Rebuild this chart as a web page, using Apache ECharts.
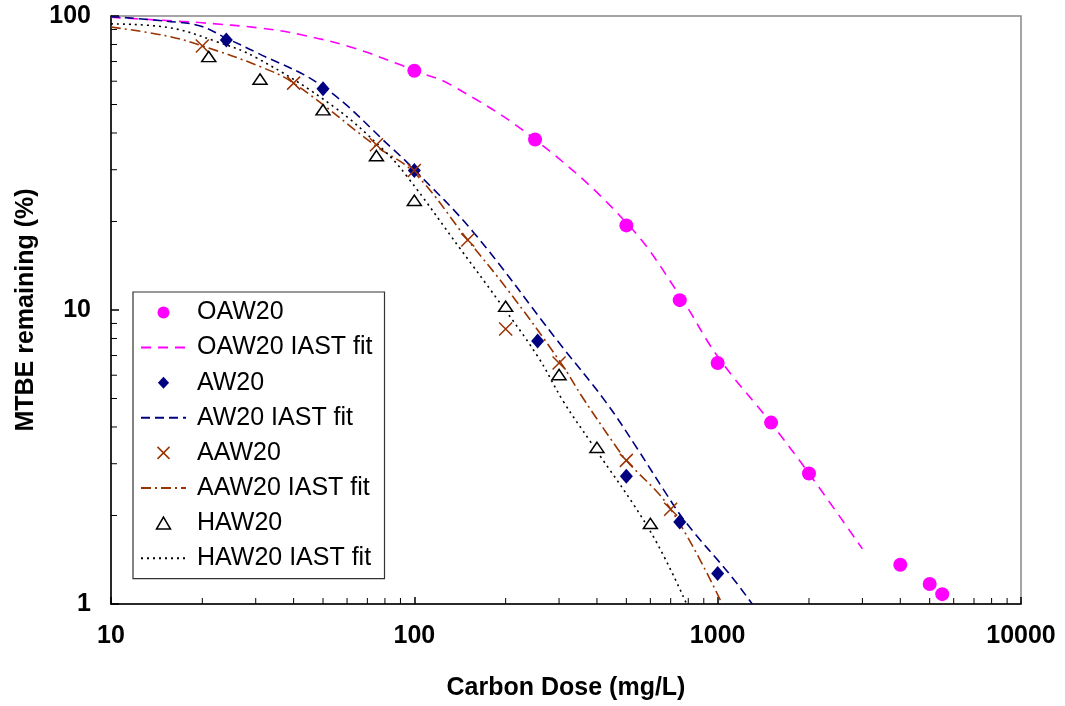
<!DOCTYPE html>
<html><head><meta charset="utf-8">
<script src="https://cdn.jsdelivr.net/npm/echarts@6/dist/echarts.min.js"></script>
<style>html,body{margin:0;padding:0;background:#fff}#c{width:1065px;height:706px}</style>
</head><body><div id="c"></div>
<script>
// ---- data ----
const xTickLabels = ['10', '100', '1000', '10000'];
const yTickLabels = ['1', '10', '100'];
const xMinorTicks = [20,30,40,50,60,70,80,90,200,300,400,500,600,700,800,900,2000,3000,4000,5000,6000,7000,8000,9000];
const yMinorTicks = [2,3,4,5,6,7,8,9,20,30,40,50,60,70,80,90];

const oaw20X = [100, 250, 500, 750, 1000, 1500, 2000, 4000, 5000, 5500];
const oaw20Y = [65.1, 38.0, 19.4, 10.8, 6.6, 4.14, 2.78, 1.36, 1.17, 1.08];
const aw20X = [24, 50, 100, 255, 500, 750, 1000];
const aw20Y = [82.9, 56.6, 29.8, 7.85, 2.72, 1.90, 1.27];
const aaw20X = [20, 40, 75, 100, 150, 200, 300, 500, 700];
const aaw20Y = [79.1, 59.1, 36.5, 29.8, 17.3, 8.62, 6.6, 3.08, 2.10];
const haw20X = [21, 31, 50, 75, 100, 200, 300, 400, 600];
const haw20Y = [72.8, 61.0, 48.0, 33.5, 23.6, 10.3, 6.03, 3.41, 1.88];

const oawFitX = [10, 16.5, 20, 31, 42, 61.5, 90, 100, 131.5, 250, 505, 750, 1000, 1500, 2000, 3000];
const oawFitY = [99.0, 96.0, 94.8, 91.0, 86.5, 78.5, 68.2, 65.2, 58.4, 38.0, 19.6, 11.2, 6.95, 4.12, 2.78, 1.54];
const awFitX = [10, 15.3, 19.7, 24, 30.3, 50, 85.4, 100, 156.5, 296, 427, 543, 663, 784, 1104, 1300];
const awFitY = [99.5, 96.0, 92.5, 84.0, 75.0, 57.5, 35.1, 30.0, 18.4, 7.87, 4.88, 3.38, 2.45, 1.90, 1.25, 1.0];
const aawFitX = [10, 15.3, 20, 31, 40, 75, 100, 150, 202, 303, 361, 467, 500, 700, 1035];
const aawFitY = [91.7, 85.5, 79.1, 67.3, 59.1, 36.0, 29.3, 17.3, 11.8, 6.65, 4.99, 3.38, 3.08, 2.10, 1.0];
const hawFitX = [10, 15.3, 22.3, 30.3, 54, 79, 94.5, 142, 187.5, 254, 311, 381, 601, 790];
const hawFitY = [94.0, 91.5, 81.8, 71.9, 49.3, 35.1, 28.5, 16.1, 10.9, 7.0, 4.86, 3.56, 1.76, 1.0];

// ---- build chart ----
const zip = (xs, ys) => xs.map((x, i) => [x, ys[i]]);
const FONT = "'Liberation Sans', Arial, sans-serif";
const MAGENTA = '#FF00FF', NAVY = '#000080', BROWN = '#993300', BLACK = '#000000';
const CROSS = 'path://M0,0L10,10M10,0L0,10';
const DIAMOND = 'path://M7,0L14,7.5L7,15L0,7.5Z';
const TRIANGLE = 'path://M7,0L14,12L0,12Z';
const CLEAR = 'rgba(0,0,0,0)';

function fitLine(name, xs, ys, color, dash) {
  return {
    name, type: 'line', data: zip(xs, ys), showSymbol: false, symbol: 'none',
    smooth: 0.4, z: 2, silent: true,
    lineStyle: { color, width: 1.6, type: dash },
    itemStyle: { color: CLEAR, borderWidth: 0 }
  };
}

const chart = echarts.init(document.getElementById('c'), null, { renderer: 'canvas' });
chart.setOption({
  animation: false,
  backgroundColor: '#fff',
  textStyle: { fontFamily: FONT },
  grid: { left: 111, right: 44, top: 16, bottom: 100, show: true, borderColor: '#888', borderWidth: 1.5, backgroundColor: '#fff' },
  xAxis: {
    type: 'log', logBase: 10, min: 10, max: 10000, splitNumber: 3,
    name: 'Carbon Dose (mg/L)', nameLocation: 'middle', nameGap: 72,
    nameTextStyle: { fontSize: 25, fontWeight: 'bold', color: '#000', fontFamily: FONT },
    axisLine: { onZero: false, lineStyle: { color: '#000', width: 1.5 } },
    axisTick: { inside: true, length: 7, lineStyle: { color: '#000', width: 1.5 } },
    axisLabel: { fontSize: 25, fontWeight: 'bold', color: '#000', fontFamily: FONT, margin: 20,
      formatter: v => xTickLabels.find(t => Number(t) === Math.round(v)) || '' },
    splitLine: { show: false }
  },
  yAxis: {
    type: 'log', logBase: 10, min: 1, max: 100, splitNumber: 2,
    name: 'MTBE remaining (%)', nameLocation: 'middle', nameGap: 64,
    nameTextStyle: { fontSize: 25, fontWeight: 'bold', color: '#000', fontFamily: FONT },
    axisLine: { onZero: false, lineStyle: { color: '#000', width: 1.5 } },
    axisTick: { inside: true, length: 8, lineStyle: { color: '#000', width: 1.5 } },
    axisLabel: { fontSize: 25, fontWeight: 'bold', color: '#000', fontFamily: FONT, margin: 20,
      formatter: v => yTickLabels.find(t => Number(t) === Math.round(v)) || '' },
    splitLine: { show: false }
  },
  legend: {
    orient: 'vertical', left: 133, top: 292,
    padding: [8, 12, 8, 7], itemGap: 10.1, itemWidth: 45, itemHeight: 12,
    symbolKeepAspect: true,
    backgroundColor: '#fff', borderColor: '#333', borderWidth: 1.2,
    textStyle: { fontSize: 25, color: '#000', fontFamily: FONT, lineHeight: 25, padding: [0, 0, 0, 6] },
    data: [
      { name: 'OAW20', icon: 'circle', itemStyle: { color: MAGENTA } },
      { name: 'OAW20 IAST fit' },
      { name: 'AW20', icon: DIAMOND, itemStyle: { color: NAVY } },
      { name: 'AW20 IAST fit' },
      { name: 'AAW20', icon: CROSS, itemStyle: { color: CLEAR, borderColor: BROWN, borderWidth: 1.5 } },
      { name: 'AAW20 IAST fit' },
      { name: 'HAW20', icon: TRIANGLE, itemStyle: { color: '#fff', borderColor: BLACK, borderWidth: 1.5 } },
      { name: 'HAW20 IAST fit' }
    ]
  },
  series: [
    fitLine('OAW20 IAST fit', oawFitX, oawFitY, MAGENTA, [10, 7]),
    fitLine('AW20 IAST fit', awFitX, awFitY, NAVY, [9, 5]),
    fitLine('AAW20 IAST fit', aawFitX, aawFitY, BROWN, [10, 4, 2, 4]),
    fitLine('HAW20 IAST fit', hawFitX, hawFitY, BLACK, [2, 4]),
    { name: 'OAW20', type: 'scatter', data: zip(oaw20X, oaw20Y), symbol: 'circle', symbolSize: 14, z: 5,
      itemStyle: { color: MAGENTA, opacity: 1 } },
    { name: 'AW20', type: 'scatter', data: zip(aw20X, aw20Y), symbol: DIAMOND, symbolSize: [14, 15], symbolKeepAspect: true, z: 5,
      itemStyle: { color: NAVY, opacity: 1 } },
    { name: 'AAW20', type: 'scatter', data: zip(aaw20X, aaw20Y), symbol: CROSS, symbolSize: 13, symbolKeepAspect: true, z: 6,
      itemStyle: { color: CLEAR, borderColor: BROWN, borderWidth: 1.5, opacity: 1 } },
    { name: 'HAW20', type: 'scatter', data: zip(haw20X, haw20Y), symbol: TRIANGLE, symbolSize: [14, 12], symbolKeepAspect: true, z: 6,
      itemStyle: { color: '#fff', borderColor: BLACK, borderWidth: 1.5, opacity: 1 } },
    { name: 'xMinor', type: 'custom', silent: true, z: 4, data: xMinorTicks.map(v => [v, 1]),
      renderItem: (params, api) => {
        const p = api.coord([api.value(0), api.value(1)]);
        return { type: 'line', shape: { x1: p[0], y1: p[1], x2: p[0], y2: p[1] - 6 }, style: { stroke: '#000', lineWidth: 1 } };
      } },
    { name: 'yMinor', type: 'custom', silent: true, z: 4, data: yMinorTicks.map(v => [10, v]),
      renderItem: (params, api) => {
        const p = api.coord([api.value(0), api.value(1)]);
        return { type: 'line', shape: { x1: p[0], y1: p[1], x2: p[0] + 6, y2: p[1] }, style: { stroke: '#000', lineWidth: 1 } };
      } }
  ]
});
</script>
</body></html>
